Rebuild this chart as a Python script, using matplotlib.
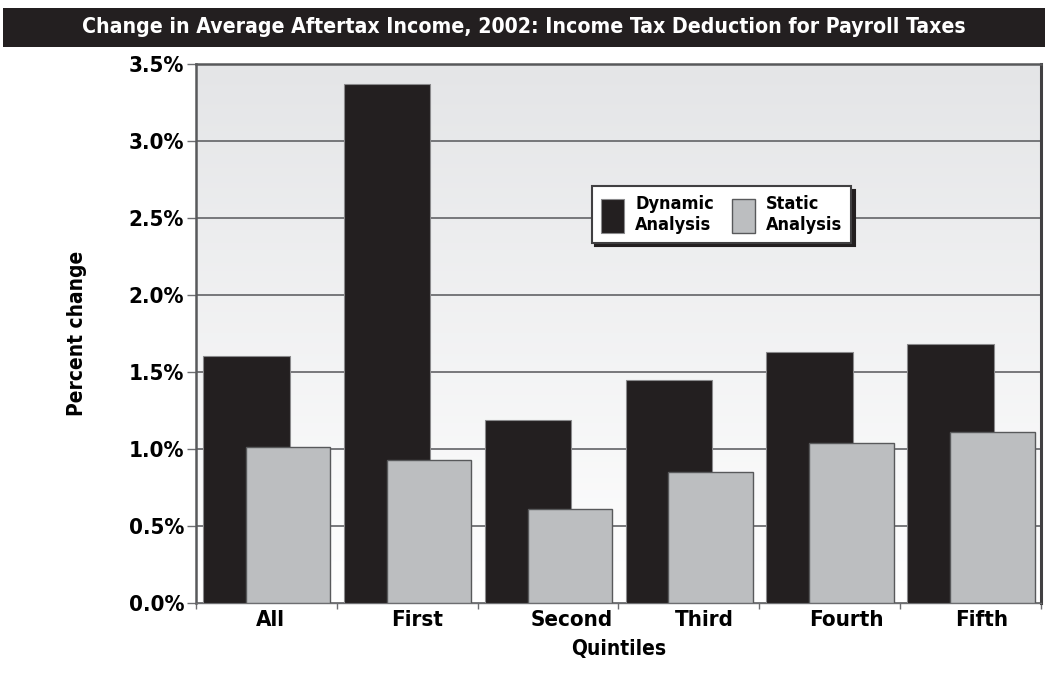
import numpy as np
import matplotlib
matplotlib.use("Agg")
import matplotlib.pyplot as plt
from matplotlib.patches import Rectangle

# Percent change in average aftertax income, 2002
quintiles = ["All", "First", "Second", "Third", "Fourth", "Fifth"]
dynamic = [1.60, 3.37, 1.19, 1.445, 1.63, 1.68]
static = [1.01, 0.93, 0.61, 0.85, 1.04, 1.11]
label_pos = [0.53, 1.57, 2.67, 3.61, 4.62, 5.58]
yticks = [0.0, 0.5, 1.0, 1.5, 2.0, 2.5, 3.0, 3.5]

plt.rcParams["font.family"] = ["DejaVu Sans"]
plt.rcParams["font.weight"] = "bold"
plt.rcParams["font.stretch"] = "condensed"

DARK = "#231f20"
LIGHT = "#bcbec0"
GRID = "#6d6e71"

fig = plt.figure(figsize=(10.48, 6.73), dpi=100)
ax = fig.add_axes([0.187, 0.104, 0.8063, 0.8016])

# title band
fig.patches.append(Rectangle((0.003, 1 - 47 / 673), 0.994, 39 / 673,
                             transform=fig.transFigure, facecolor=DARK,
                             edgecolor="none", zorder=0))
fig.text(0.5, 1 - 27 / 673,
         "Change in Average Aftertax Income, 2002: Income Tax Deduction for Payroll Taxes",
         color="white", fontsize=15.2, fontweight="bold", ha="center", va="center")

# background shading: light gray at top fading to white
grad = np.linspace(0, 1, 256).reshape(-1, 1)
cmap = matplotlib.colors.LinearSegmentedColormap.from_list("bg", ["#e4e5e7", "#ffffff"])
ax.imshow(grad, cmap=cmap, aspect="auto", extent=[0, 1, 0, 1],
          transform=ax.transAxes, zorder=0)

x = np.arange(len(quintiles))
ax.bar(x + 0.05, dynamic, width=0.615, align="edge", color=DARK,
       edgecolor="#8a8a8c", linewidth=0.8, zorder=3, label="Dynamic\nAnalysis")
ax.bar(x + 0.355, static, width=0.6, align="edge", color=LIGHT,
       edgecolor="#58595b", linewidth=1.0, zorder=4, label="Static\nAnalysis")

ax.set_xlim(0, len(quintiles))
ax.set_ylim(0, 3.5)
ax.set_yticks(yticks)
ax.set_yticklabels([f"{v:.1f}%" for v in yticks])
ax.yaxis.grid(True, color=GRID, linewidth=1.3, zorder=1)
ax.set_axisbelow(True)

ax.set_xticks(np.arange(len(quintiles) + 1))
ax.set_xticklabels([])
ax.set_xticks(label_pos, minor=True)
ax.set_xticklabels(quintiles, minor=True)
ax.tick_params(axis="x", which="major", direction="out", length=4.5,
               width=1.0, color=GRID)
ax.tick_params(axis="x", which="minor", length=0, pad=5, labelsize=16)
ax.tick_params(axis="y", direction="out", length=6.5, width=1.0, color=GRID,
               pad=2, labelsize=16)

for side in ["left", "top", "right"]:
    ax.spines[side].set_color("#58595b")
    ax.spines[side].set_linewidth(1.8)
ax.spines["bottom"].set_color(GRID)
ax.spines["bottom"].set_linewidth(1.0)
ax.spines["right"].set_color("#414042")
ax.spines["right"].set_linewidth(2.2)

ax.set_ylabel("Percent change", fontsize=15, fontweight="bold")
ax.yaxis.set_label_coords(-0.129, 0.5)
ax.set_xlabel("Quintiles", fontsize=15, fontweight="bold")
ax.xaxis.set_label_coords(0.5, -0.066)

leg = ax.legend(loc="center", bbox_to_anchor=(0.622, 0.72), ncol=2,
                fontsize=13, frameon=True, fancybox=False,
                shadow={"color": "#231f20", "alpha": 1.0, "ox": 2.5, "oy": -2.5},
                handlelength=1.3, handleheight=2.5, handletextpad=0.6,
                columnspacing=1.0, borderpad=0.5, labelspacing=0.2)
leg.get_frame().set_edgecolor("#414042")
leg.get_frame().set_linewidth(1.5)
leg.set_zorder(6)

fig.savefig("out.png", dpi=100)
